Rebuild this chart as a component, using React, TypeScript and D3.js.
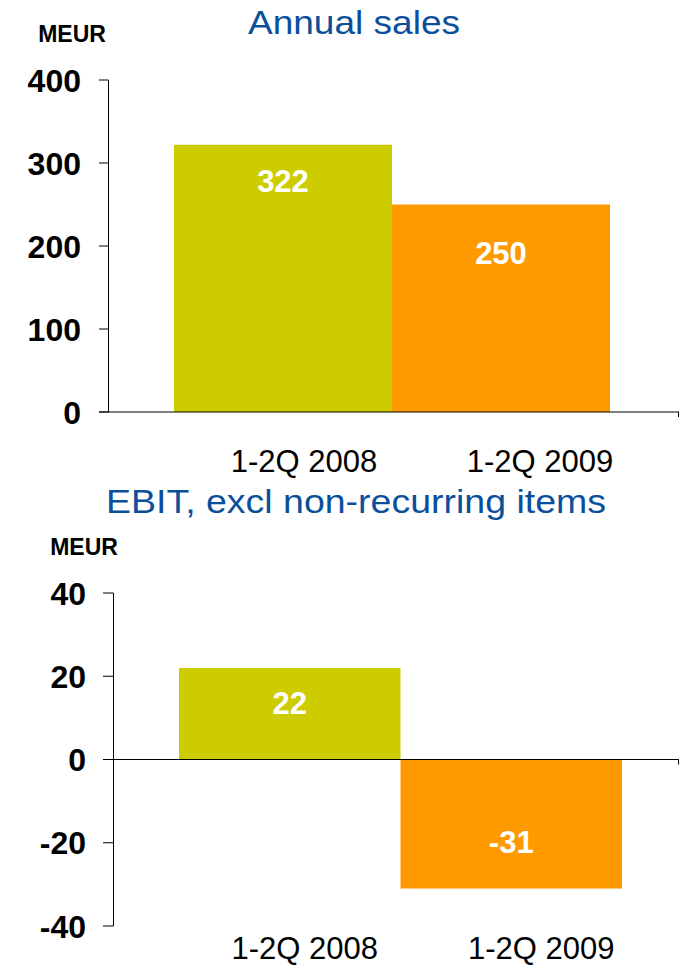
import React from "react";
import * as d3 from "d3";

const categories = ["1-2Q 2008", "1-2Q 2009"];
const salesValues = [322, 250];
const salesTicks = [0, 100, 200, 300, 400];
const ebitValues = [22, -31];
const ebitTicks = [-40, -20, 0, 20, 40];
const barColors = ["#CCCC00", "#FF9900"];
const titles = ["Annual sales", "EBIT, excl non-recurring items"];
const unitLabel = "MEUR";

const FONT = "'Liberation Sans', Arial, sans-serif";
const TITLE_COLOR = "#0A4F9C";

type ChartCfg = {
  values: number[];
  ticks: number[];
  domain: [number, number];
  yRange: [number, number];
  xRange: [number, number];
  axisX: number;
  tickLeft: number;
  tickLabelX: number;
  lineRight: number;
  catBaseline: number;
  catDx: number[];
  labelDy: number[];
  title: string;
  titleX: number;
  titleY: number;
  titleLen: number;
  unitX: number;
  unitY: number;
};

function Chart({ c }: { c: ChartCfg }) {
  const y = d3.scaleLinear().domain(c.domain).range(c.yRange);
  const x = d3.scaleBand<string>().domain(categories).range(c.xRange).padding(0);
  const y0 = y(0);
  return (
    <g>
      <text x={c.titleX} y={c.titleY} textAnchor="middle" fontFamily={FONT} fontSize={33}
        fill={TITLE_COLOR} textLength={c.titleLen} lengthAdjust="spacingAndGlyphs">{c.title}</text>
      <text x={c.unitX} y={c.unitY} textAnchor="middle" fontFamily={FONT} fontSize={23}
        fontWeight="bold" fill="#000">{unitLabel}</text>
      {c.values.map((v, i) => {
        const top = y(Math.max(v, 0));
        const bot = y(Math.min(v, 0));
        const xb = x(categories[i])!;
        return (
          <rect key={i} x={xb} y={top} width={x.bandwidth()} height={bot - top} fill={barColors[i]} />
        );
      })}
      <line x1={c.axisX} x2={c.axisX} y1={y(c.domain[1])} y2={y(c.domain[0])} stroke="#000" strokeWidth={1} />
      {c.ticks.map((t) => (
        <g key={t}>
          <line x1={c.tickLeft} x2={c.axisX} y1={y(t)} y2={y(t)} stroke="#000" strokeWidth={1} />
          <text x={c.tickLabelX} y={y(t) + 11.5} textAnchor="end" fontFamily={FONT} fontSize={32}
            fontWeight="bold" fill="#000">{String(t)}</text>
        </g>
      ))}
      <line x1={c.tickLeft} x2={c.lineRight} y1={y0} y2={y0} stroke="#000" strokeWidth={1.2} />
      <line x1={c.lineRight - 0.5} x2={c.lineRight - 0.5} y1={y0} y2={y0 + 5} stroke="#000" strokeWidth={1} />
      {c.values.map((v, i) => {
        const xc = x(categories[i])! + x.bandwidth() / 2;
        const ref = y(v);
        return (
          <text key={"l" + i} x={xc} y={ref + c.labelDy[i]} textAnchor="middle" fontFamily={FONT}
            fontSize={31} fontWeight="bold" fill="#fff">{String(v)}</text>
        );
      })}
      {categories.map((cat, i) => (
        <text key={cat} x={x(cat)! + x.bandwidth() / 2 + c.catDx[i]} y={c.catBaseline} textAnchor="middle"
          fontFamily={FONT} fontSize={31} fill="#000">{cat}</text>
      ))}
    </g>
  );
}

export default function App() {
  const c1: ChartCfg = {
    values: salesValues,
    ticks: salesTicks,
    domain: [0, 400],
    yRange: [412, 80],
    xRange: [174, 610],
    axisX: 108.5,
    tickLeft: 99,
    tickLabelX: 81,
    lineRight: 679,
    catBaseline: 472,
    catDx: [21, 39],
    labelDy: [47, 59],
    title: titles[0],
    titleX: 354,
    titleY: 34,
    titleLen: 212,
    unitX: 72,
    unitY: 42,
  };
  const c2: ChartCfg = {
    values: ebitValues,
    ticks: ebitTicks,
    domain: [-40, 40],
    yRange: [926, 593],
    xRange: [179, 622],
    axisX: 113.5,
    tickLeft: 103,
    tickLabelX: 86,
    lineRight: 679,
    catBaseline: 959,
    catDx: [15, 30],
    labelDy: [46, -36],
    title: titles[1],
    titleX: 356,
    titleY: 513,
    titleLen: 500,
    unitX: 84,
    unitY: 555,
  };
  return (
    <svg width={679} height={966} style={{ position: "absolute", left: 0, top: 0, background: "#fff" }}>
      <rect x={0} y={0} width={679} height={966} fill="#fff" />
      <Chart c={c1} />
      <Chart c={c2} />
    </svg>
  );
}
